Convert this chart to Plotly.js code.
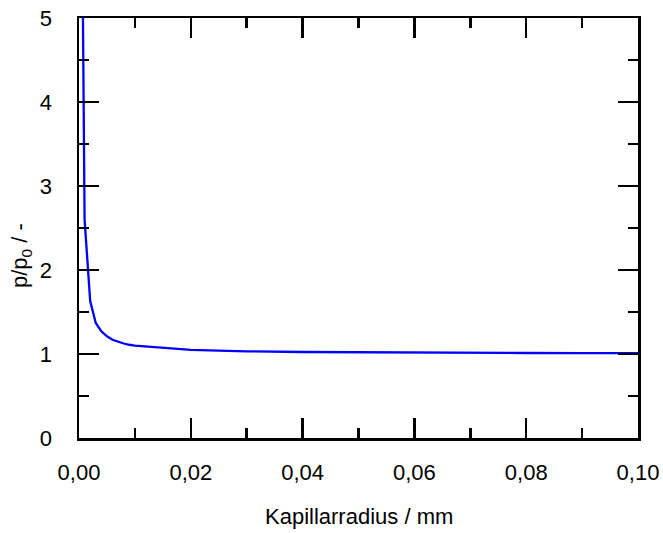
<!DOCTYPE html>
<html>
<head>
<meta charset="utf-8">
<script src="https://cdn.plot.ly/plotly-3.0.1.min.js"></script>
<style>html,body{margin:0;padding:0;background:#fff;}#chart{width:663px;height:533px;}</style>
</head>
<body>
<div id="chart"></div>
<script>
// Kapillarradius (mm) and relative pressure p/p0
const radius = [0.0005, 0.001, 0.002, 0.003, 0.004, 0.005, 0.006, 0.007, 0.008, 0.009, 0.01,
                0.02, 0.03, 0.04, 0.05, 0.06, 0.07, 0.08, 0.09, 0.10];
const pressureRatio = [6.7, 2.6, 1.63, 1.37, 1.27, 1.21, 1.17, 1.145, 1.125, 1.11, 1.10,
                       1.05, 1.032, 1.024, 1.019, 1.016, 1.014, 1.012, 1.011, 1.01];
const xTitle = 'Kapillarradius / mm';
const yTitle = 'p/p<sub>0</sub> / -';

const font = {family: '"Liberation Sans", Arial, sans-serif', size: 22, color: '#000'};

const axisCommon = {
  showline: true, linecolor: '#000', linewidth: 2.5, mirror: 'ticks',
  ticks: 'inside', ticklen: 20, tickwidth: 2.5, tickcolor: '#000',
  showgrid: false, zeroline: false, tickfont: font, automargin: false
};

Plotly.newPlot('chart', [{
  x: radius, y: pressureRatio, type: 'scatter', mode: 'lines',
  line: {color: '#0000ff', width: 2.3}, hoverinfo: 'skip'
}], {
  width: 663, height: 533,
  margin: {l: 79, r: 25, t: 18, b: 95},
  paper_bgcolor: '#fff', plot_bgcolor: '#fff',
  separators: ', ',
  font: font,
  showlegend: false,
  xaxis: Object.assign({}, axisCommon, {
    range: [0, 0.1], dtick: 0.02, tick0: 0, tickformat: '.2f',
    ticklabelstandoff: 13,
    minor: {dtick: 0.01, ticks: 'inside', ticklen: 10, tickwidth: 2.5, tickcolor: '#000'}
  }),
  yaxis: Object.assign({}, axisCommon, {
    range: [0, 5], dtick: 1, tick0: 0,
    ticklabelstandoff: 20,
    minor: {dtick: 0.5, ticks: 'inside', ticklen: 10, tickwidth: 2.5, tickcolor: '#000'}
  }),
  annotations: [
    {text: xTitle, xref: 'paper', yref: 'paper', x: 0.5, y: (438 - 516) / 420,
     xanchor: 'center', yanchor: 'middle', showarrow: false, font: font},
    {text: yTitle, xref: 'paper', yref: 'paper', x: (21 - 79) / 559, y: (438 - 256) / 420,
     xanchor: 'center', yanchor: 'middle', textangle: -90, showarrow: false, font: font}
  ]
}, {staticPlot: true});
</script>
</body>
</html>
